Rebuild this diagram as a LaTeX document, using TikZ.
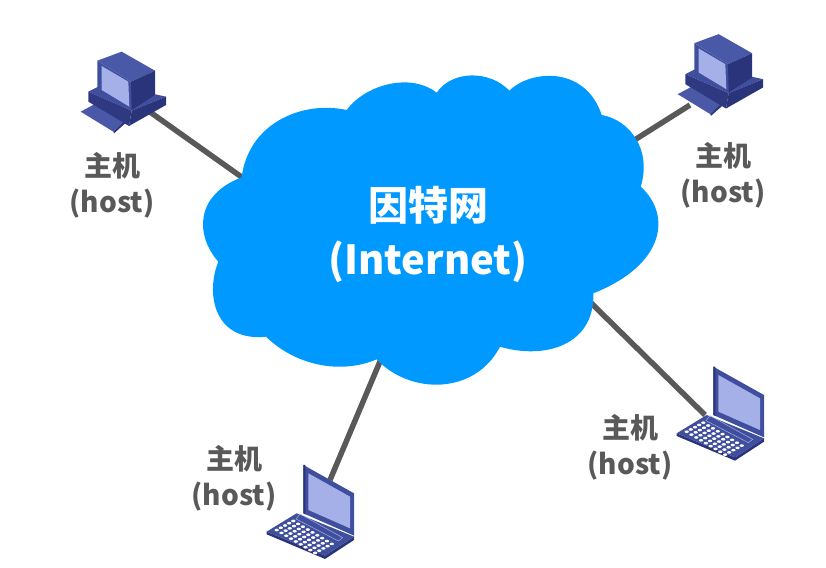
\documentclass[tikz,border=0pt]{standalone}
\usepackage{fontspec}
\setmainfont{Noto Sans CJK SC}
\usepackage{tikz}
\usepackage{xcolor}
\definecolor{cloudc}{RGB}{0,153,255}
\definecolor{linkc}{RGB}{89,89,89}
\definecolor{bodyc}{RGB}{64,78,158}
\definecolor{lightc}{RGB}{74,88,168}
\definecolor{darkc}{RGB}{42,52,122}
\definecolor{screenc}{RGB}{165,176,232}
\tikzset{
  link/.style={line width=5.5pt,linkc},
  hostlabel/.style={font=\bfseries\fontsize{28}{36}\selectfont,text=linkc,align=center,inner sep=0pt},
  cloudlabel/.style={font=\bfseries\fontsize{40}{54}\selectfont,text=white,align=center,inner sep=0pt},
  % icons are written in the 3x crop units, placed with scale=1/3
  desktop/.pic={
    \fill[lightc] (62,215)--(105,192)--(195,240)--(160,275)--cycle;
    \fill[darkc] (160,275)--(195,240)--(198,248)--(162,280)--cycle;
    \fill[bodyc] (85,155)--(135,130)--(318,170)--(215,212)--cycle;
    \fill[darkc!80!bodyc] (85,155)--(215,212)--(207,258)--(85,185)--cycle;
    \fill[darkc] (215,212)--(318,170)--(318,195)--(207,258)--cycle;
    \fill[bodyc] (112,62)--(213,125)--(215,210)--(112,145)--cycle;
    \fill[screenc] (125,78)--(205,125)--(208,200)--(125,150)--cycle;
    \fill[lightc] (112,62)--(185,35)--(285,92)--(213,125)--cycle;
    \fill[darkc] (213,125)--(285,92)--(285,165)--(215,210)--cycle;
  },
  laptop/.pic={
    \fill[bodyc] (160,50)--(312,135)--(312,262)--(160,195)--cycle;
    \fill[darkc] (160,50)--(166,50)--(166,198)--(160,195)--cycle;
    \fill[screenc] (175,75)--(300,145)--(300,240)--(175,185)--cycle;
    \fill[darkc] (50,250)--(225,322)--(312,265)--(312,275)--(225,332)--(50,258)--cycle;
    \fill[bodyc] (50,250)--(140,195)--(312,265)--(225,322)--cycle;
    \draw[screenc,line width=0.5pt] (150,197)--(278,268)--(265,278)--(138,212)--cycle;
    \foreach \i in {0,...,4} {
      \foreach \j in {0,...,8} {
        \fill[white] ({130+\j*14.4-\i*12.5},{218+\j*8.6+\i*6.8}) ellipse (6.5 and 4);
      }
    }
  },
}
\begin{document}
\begin{tikzpicture}[x=1pt,y=-1pt]
  \useasboundingbox (0,0) rectangle (826,567);
  % ---- connector ends: hosts and cloud rim ----
  \coordinate (hostA) at (150,112);
  \coordinate (hostB) at (690,105);
  \coordinate (hostC) at (330,480);
  \coordinate (hostD) at (705,415);
  \coordinate (rimA) at (250,183);
  \coordinate (rimB) at (625,146);
  \coordinate (rimC) at (384,352);
  \coordinate (rimD) at (585,297);
  \draw[link] (hostA)--(rimA);
  \draw[link] (hostB)--(rimB);
  \draw[link] (hostC)--(rimC);
  \draw[link] (hostD)--(rimD);
  % ---- the cloud ----
  \fill[cloudc] (241.7,177.3)
    .. controls (248,125) and (300,100) .. (346.7,110)
    .. controls (365,85) and (410,72) .. (436.7,92.7)
    .. controls (452,70) and (490,70) .. (509.3,90.7)
    .. controls (530,70) and (585,65) .. (601.7,115)
    .. controls (630,120) and (652,150) .. (640.7,186.7)
    .. controls (672,215) and (665,265) .. (593.3,293.3)
    .. controls (595,345) and (545,360) .. (500,346.7)
    .. controls (475,395) and (410,395) .. (376.7,359.3)
    .. controls (340,375) and (295,365) .. (266,336.7)
    .. controls (215,342) and (205,295) .. (218.3,261.7)
    .. controls (195,235) and (195,195) .. (241.7,177.3) -- cycle;
  \node[cloudlabel] (net) at (428,234) {因特网\\(Internet)};
  % ---- hosts ----
  \pic[scale=1/3] at (60,40) {desktop};
  \pic[scale=1/3] at (657,22.5) {desktop};
  \pic[scale=1/3] at (250,448.3) {laptop};
  \pic[scale=1/3] at (660,350) {laptop};
  \node[hostlabel] (labelA) at (112,185) {主机\\(host)};
  \node[hostlabel] (labelB) at (723,175) {主机\\(host)};
  \node[hostlabel] (labelC) at (234,478) {主机\\(host)};
  \node[hostlabel] (labelD) at (630,447) {主机\\(host)};
\end{tikzpicture}
\end{document}
